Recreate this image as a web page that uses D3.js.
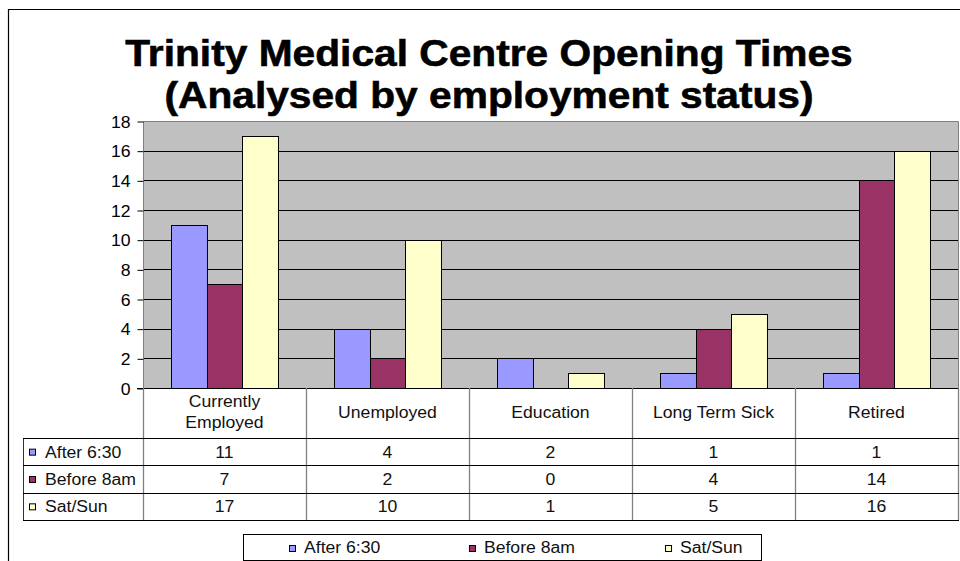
<!DOCTYPE html>
<html>
<head>
<meta charset="utf-8">
<script src="https://cdn.jsdelivr.net/npm/d3@7"></script>
<style>
  body { margin: 0; background: #fff; }
  svg { display: block; font-family: "Liberation Sans", Arial, sans-serif; }
</style>
</head>
<body>
<svg id="chart" width="960" height="561"></svg>
<script>
var categories = [["Currently", "Employed"], ["Unemployed"], ["Education"], ["Long Term Sick"], ["Retired"]];
var seriesNames = ["After 6:30", "Before 8am", "Sat/Sun"];
var seriesColors = ["#9999ff", "#993366", "#ffffcc"];
var after630 = [11, 4, 2, 1, 1];
var before8am = [7, 2, 0, 4, 14];
var satSun = [17, 10, 1, 5, 16];
var yTicks = [0, 2, 4, 6, 8, 10, 12, 14, 16, 18];
var titleLines = ["Trinity Medical Centre Opening Times", "(Analysed by employment status)"];

(function() {
  var svg = d3.select("#chart");
  var values = [after630, before8am, satSun];
  var stretch = 1.1; // the picture is a bit wider than tall

  var plot = { left: 143, right: 958, top: 121, bottom: 388 };
  var table = { left: 23, header: 438, bottom: 520 };

  function widen(sel) {
    sel.each(function() {
      var len = this.getComputedTextLength();
      d3.select(this)
        .attr("textLength", len * stretch)
        .attr("lengthAdjust", "spacingAndGlyphs");
    });
    return sel;
  }

  // outer frame, cut by the window on right and bottom
  svg.append("path")
    .attr("d", "M8.5,570 V9.5 H970")
    .attr("fill", "none")
    .attr("stroke", "#000")
    .attr("stroke-width", 1.2);

  // title
  svg.append("g").selectAll("text")
    .data(titleLines)
    .enter().append("text")
      .attr("x", 489)
      .attr("y", function(d, i) { return 66 + i * 42; })
      .attr("text-anchor", "middle")
      .attr("font-size", 37)
      .attr("font-weight", "bold")
      .attr("stroke", "#000")
      .attr("stroke-width", 0.6)
      .text(function(d) { return d; })
      .call(widen);

  var x = d3.scaleBand()
    .domain(d3.range(categories.length))
    .range([plot.left, plot.right]);

  var xSeries = d3.scaleBand()
    .domain(d3.range(seriesNames.length))
    .range([0, x.bandwidth()])
    .paddingOuter(0.765)
    .paddingInner(0);

  var y = d3.scaleLinear()
    .domain([0, 18])
    .range([plot.bottom, plot.top]);

  // plot background
  svg.append("rect")
    .attr("x", plot.left)
    .attr("y", plot.top)
    .attr("width", plot.right - plot.left)
    .attr("height", plot.bottom - plot.top)
    .attr("fill", "#c0c0c0");

  // gridlines
  svg.append("g").selectAll("line")
    .data(yTicks.slice(1, -1))
    .enter().append("line")
      .attr("x1", plot.left)
      .attr("x2", plot.right)
      .attr("y1", function(d) { return Math.round(y(d)) + 0.5; })
      .attr("y2", function(d) { return Math.round(y(d)) + 0.5; })
      .attr("stroke", "#000");

  // plot border
  svg.append("path")
    .attr("d", "M" + (plot.left + 0.5) + "," + (plot.bottom) + " V" + (plot.top + 0.5) +
      " H" + (plot.right + 0.5) + " V" + plot.bottom)
    .attr("fill", "none")
    .attr("stroke", "#808080");

  // bars
  var groups = svg.append("g").selectAll("g")
    .data(categories)
    .enter().append("g")
      .attr("transform", function(d, i) { return "translate(" + x(i) + ",0)"; });

  groups.selectAll("rect")
    .data(function(d, i) { return values.map(function(v, s) { return { s: s, v: v[i] }; }); })
    .enter().append("rect")
      .filter(function(d) { return d.v > 0; })
      .attr("x", function(d) { return Math.round(xSeries(d.s)) + 0.5; })
      .attr("y", function(d) { return Math.round(y(d.v)) + 0.5; })
      .attr("width", xSeries.bandwidth())
      .attr("height", function(d) { return Math.round(y(0)) - Math.round(y(d.v)); })
      .attr("fill", function(d) { return seriesColors[d.s]; })
      .attr("stroke", "#000");

  // y axis
  var yAxis = svg.append("g")
    .attr("transform", "translate(" + (plot.left + 0.5) + ",0.5)")
    .call(d3.axisLeft(y).tickValues(yTicks).tickSize(6).tickPadding(7).tickFormat(d3.format("d")));
  yAxis.select(".domain").remove();
  yAxis.selectAll(".tick line").attr("stroke", "#000");
  yAxis.selectAll(".tick text")
    .attr("font-size", 16)
    .attr("font-family", "Liberation Sans, Arial, sans-serif")
    .attr("fill", "#000")
    .attr("dy", "0.36em")
    .call(widen);

  // baseline at 0
  svg.append("line")
    .attr("x1", plot.left - 6)
    .attr("x2", plot.right)
    .attr("y1", Math.round(y(0)) + 0.5)
    .attr("y2", Math.round(y(0)) + 0.5)
    .attr("stroke", "#000");

  // data table
  var rowY = d3.scaleBand()
    .domain(d3.range(seriesNames.length))
    .range([table.header, table.bottom]);

  var grid = svg.append("g");

  // vertical separators
  grid.selectAll(".vsep")
    .data(d3.range(categories.length + 1))
    .enter().append("line")
      .attr("class", "vsep")
      .attr("x1", function(i) { return Math.round(i < categories.length ? x(i) : plot.right) + 0.5; })
      .attr("x2", function(i) { return Math.round(i < categories.length ? x(i) : plot.right) + 0.5; })
      .attr("y1", plot.bottom)
      .attr("y2", table.bottom)
      .attr("stroke", "#808080")
      .attr("stroke-width", 1.3);

  grid.append("line")
    .attr("x1", table.left + 0.5)
    .attr("x2", table.left + 0.5)
    .attr("y1", table.header)
    .attr("y2", table.bottom)
    .attr("stroke", "#333");

  // horizontal lines
  grid.selectAll(".hsep")
    .data(d3.range(seriesNames.length + 1))
    .enter().append("line")
      .attr("class", "hsep")
      .attr("x1", table.left)
      .attr("x2", plot.right + 1)
      .attr("y1", function(i) { return Math.round(table.header + i * rowY.step()) + 0.5; })
      .attr("y2", function(i) { return Math.round(table.header + i * rowY.step()) + 0.5; })
      .attr("stroke", "#000");

  // category headers
  var headerMid = (plot.bottom + table.header) / 2 + 4.5;
  svg.append("g").selectAll("g")
    .data(categories)
    .enter().append("g")
      .each(function(lines, i) {
        d3.select(this).selectAll("text")
          .data(lines)
          .enter().append("text")
            .attr("x", x(i) + x.bandwidth() / 2)
            .attr("y", function(d, j) { return headerMid + (j - (lines.length - 1) / 2) * 21.6; })
            .attr("text-anchor", "middle")
            .attr("font-size", 16)
            .attr("fill", "#111")
            .text(function(d) { return d; })
            .call(widen);
      });

  // row labels with keys
  var rows = svg.append("g").selectAll("g")
    .data(seriesNames)
    .enter().append("g")
      .attr("transform", function(d, s) { return "translate(0," + (rowY(s) + rowY.bandwidth() / 2) + ")"; });

  rows.append("rect")
    .attr("x", 29.5)
    .attr("y", -2.5)
    .attr("width", 6)
    .attr("height", 6)
    .attr("fill", function(d, s) { return seriesColors[s]; })
    .attr("stroke", "#000");

  rows.append("text")
    .attr("x", 45)
    .attr("y", 6)
    .attr("font-size", 16)
    .attr("fill", "#111")
    .text(function(d) { return d; })
    .call(widen);

  rows.selectAll(".val")
    .data(function(d, s) { return values[s]; })
    .enter().append("text")
      .attr("class", "val")
      .attr("x", function(d, i) { return x(i) + x.bandwidth() / 2; })
      .attr("y", 6)
      .attr("text-anchor", "middle")
      .attr("font-size", 16)
      .attr("fill", "#111")
      .text(function(d) { return d; })
      .call(widen);

  // legend
  var legend = svg.append("g");
  legend.append("rect")
    .attr("x", 243.5)
    .attr("y", 534.5)
    .attr("width", 518)
    .attr("height", 26)
    .attr("fill", "#fff")
    .attr("stroke", "#000");

  var lx = 289;
  seriesNames.forEach(function(name, s) {
    var item = legend.append("g").attr("transform", "translate(" + lx + ",548)");
    item.append("rect")
      .attr("x", 0.5)
      .attr("y", -2.5)
      .attr("width", 6)
      .attr("height", 6)
      .attr("fill", seriesColors[s])
      .attr("stroke", "#000");
    var t = item.append("text")
      .attr("x", 15)
      .attr("y", 5)
      .attr("font-size", 16)
      .attr("fill", "#111")
      .text(name)
      .call(widen);
    lx += 15 + t.node().getComputedTextLength() * stretch + 81;
  });
})();
</script>
</body>
</html>
